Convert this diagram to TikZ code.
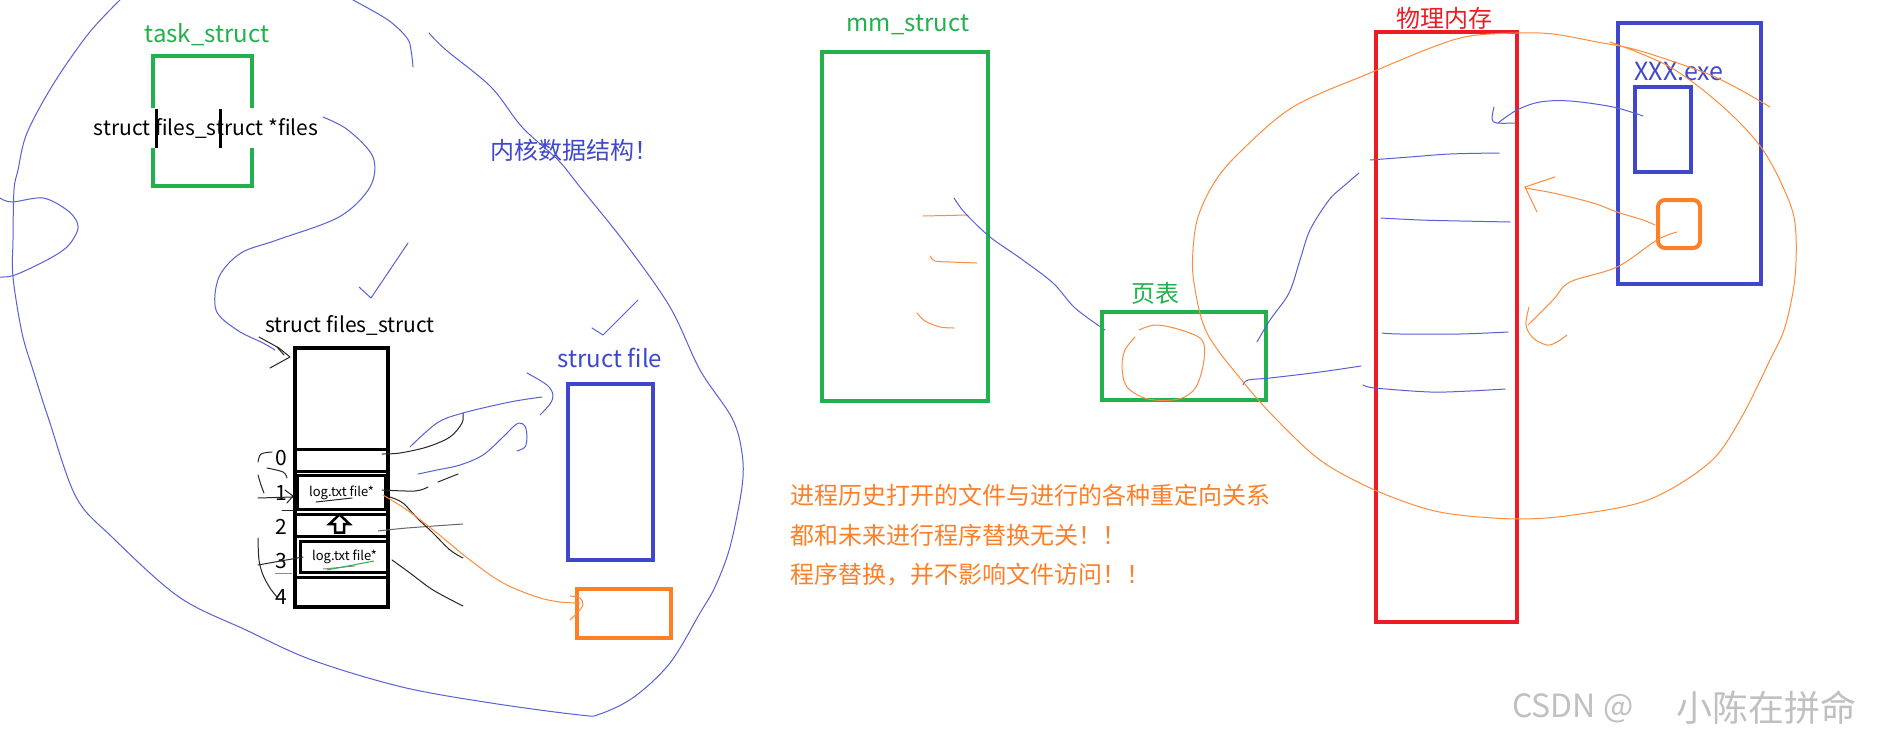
\documentclass[tikz,border=0pt]{standalone}
\usepackage{fontspec}
\setmainfont{Noto Sans CJK SC}
\definecolor{pgreen}{RGB}{34,177,76}
\definecolor{pblue}{RGB}{63,72,204}
\definecolor{pred}{RGB}{237,28,36}
\definecolor{porange}{RGB}{255,127,39}
\definecolor{hblue}{RGB}{88,96,214}
\definecolor{horange}{RGB}{255,140,60}
\definecolor{wmgray}{RGB}{192,192,192}
\newcommand{\myfs}[1]{\fontsize{#1}{#1}\selectfont}
\begin{document}
\begin{tikzpicture}[x=1pt,y=-1pt,
  boxst/.style={draw, line width=4pt, inner sep=0pt, anchor=center},
  rowst/.style={draw, line width=3pt, inner sep=0pt, anchor=center},
  lbl/.style={inner sep=0pt, anchor=center},
  hb/.style={draw=hblue, line width=1pt, line cap=round, line join=round},
  ho/.style={draw=horange, line width=1pt, line cap=round, line join=round},
  hk/.style={draw=black!85, line width=1pt, line cap=round, line join=round},
  sm/.style={smooth, tension=0.55}]
\useasboundingbox (0,0) rectangle (1890,741);
\fill[white] (0,0) rectangle (1890,741);

% ---------- task_struct ----------
\node[boxst, draw=pgreen, minimum width=99, minimum height=130] (task) at (202.5,121) {};
\node[lbl, text=pgreen] (tasklbl) at (207,35) {\myfs{24}task\_struct};
\node[lbl, fill=white, minimum height=40, inner xsep=0pt] (files) at (206,128) {\myfs{21}struct files\_struct *files};
\fill[black] (154.5,109) rectangle (158,148);
\fill[black] (218.5,109) rectangle (222,148);

% ---------- big blue kernel loop ----------
\draw[hb] plot[sm] coordinates {(120,0) (89,33) (54,83) (27,133) (18,170) (14,190) (13,240) (13,277) (22,333) (33,370) (49,420) (76,497) (112,537) (179,597) (246,630) (312,660) (402,687) (491,703) (580,715) (600,714) (634,697) (670,663) (700,613) (715,587) (730,547) (742,487) (742,453) (732,418) (700,370) (670,307) (625,243) (580,187) (558,160) (522,127) (491,87) (446,50) (429,33)};
\draw[hb] plot[sm] coordinates {(353,0) (388,20) (407,38) (411,50) (413,67)};
\draw[hb] plot[sm] coordinates {(0,198) (12,202) (43,198) (67,210) (77,222) (77,232) (67,247) (47,260) (15,275) (0,277)};

% kernel label and checks
\node[lbl, anchor=west, text=pblue] (kern) at (490,150) {\myfs{24}内核数据结构！};
\draw[hb] (408,243) -- (371,298) -- (359,287);
\draw[hb] (638,300) -- (603,335) -- (592,328);

% ---------- files_struct ----------
\node[lbl, text=black] (fslbl) at (350,325) {\myfs{21}struct files\_struct};
\node[boxst, draw=black, minimum width=93, minimum height=259] (fs) at (341.5,477.5) {};
\node[rowst, minimum width=93, minimum height=22] (r0) at (342,460.5) {};
\node[rowst, minimum width=88, minimum height=34] (r1) at (341.5,492.5) {\myfs{13}log.txt file*};
\node[rowst, minimum width=93, minimum height=22] (r2) at (342,525.5) {};
\node[rowst, minimum width=88, minimum height=31] (r3) at (344.5,557) {\myfs{13}log.txt file*};
\node[rowst, minimum width=93, minimum height=29] (r4) at (342,592) {};
\node[lbl] (n0) at (281,458) {\myfs{21}0};
\node[lbl] (n1) at (281,493) {\myfs{21}1};
\node[lbl] (n2) at (281,527) {\myfs{21}2};
\node[lbl] (n3) at (281,561) {\myfs{21}3};
\node[lbl] (n4) at (281,597) {\myfs{21}4};
\draw[line width=2.5pt, fill=white, line join=miter] (339.5,514.5) -- (349.5,524) -- (344,524) -- (344,532.5) -- (335,532.5) -- (335,524) -- (329.5,524) -- cycle;
% underline scribbles
\draw[hk] (316,502) -- (352,498);
\draw[draw=black!45, line width=1pt] (323,569) -- (355,566);
\draw[draw=pgreen, line width=1pt] (327,570) -- (374,561);

% connector files -> files_struct
\draw[hb] plot[sm] coordinates {(323,117) (348,130) (373,157) (370,187) (339,217) (277,240) (241,253) (219,277) (216,310) (237,330) (263,343) (275,350)};
\draw[hk] (259,337) -- (279,348) -- (290,357) -- (270,368);
\draw[hk] (277,347) -- (284,355);

% left hand strokes
\draw[hk] plot[sm] coordinates {(272,452) (261,454) (258,462)};
\draw[hk] plot[sm] coordinates {(267,468) (283,472) (287,478)};
\draw[hk] plot[sm] coordinates {(258,475) (261,485) (264,493)};
\draw[hk] (258,498) -- (293,497);
\draw[hk] (285,490) -- (293,496) -- (287,503);
\draw[hk] (282,510) -- (293,510);
\draw[hk] (258,565) -- (303,557);
\draw[draw=black!45, line width=1pt] (275,573) -- (292,573);
\draw[hk] plot[sm] coordinates {(258,538) (259,560) (263,575) (270,588) (277,597)};

% right hand strokes
\draw[hk] plot[sm] coordinates {(382,454) (400,453) (427,447) (450,437) (462,423) (463,413)};
\draw[hk] plot[sm] coordinates {(382,490) (415,491) (428,487)};
\draw[hk] (438,482) -- (458,474);
\draw[draw=black!60, line width=1pt] plot[sm] coordinates {(378,531) (407,528) (463,524)};
\draw[hk] plot[sm] coordinates {(390,497) (403,503) (417,518) (432,532) (450,550) (463,558)};
\draw[hk] plot[sm] coordinates {(392,560) (410,573) (433,590) (463,606)};

% ---------- struct file ----------
\node[lbl, text=pblue] (sflbl) at (610,358) {\myfs{24}struct file};
\node[boxst, draw=pblue, minimum width=85, minimum height=176] (sf) at (610.5,472) {};
\node[boxst, draw=porange, minimum width=94, minimum height=49] (ob) at (624,613.5) {};
\draw[hb] plot[sm] coordinates {(410,447) (437,423) (463,413) (510,402) (542,397)};
\draw[hb] plot[sm] coordinates {(527,373) (547,385) (553,395) (550,404) (540,415)};
\draw[hb] plot[sm] coordinates {(418,474) (437,470) (460,465) (483,455) (503,437) (513,427) (519,423) (525,426) (527,437) (525,447) (517,451)};
\draw[ho] plot[sm] coordinates {(383,495) (407,510) (437,533) (470,560) (503,583) (537,597) (560,602) (580,603)};
\draw[ho] plot[sm] coordinates {(570,596) (580,598) (583,605) (577,613) (570,620)};

% ---------- mm_struct ----------
\node[lbl, text=pgreen] (mmlbl) at (908,25) {\myfs{24}mm\_struct};
\node[boxst, draw=pgreen, minimum width=166, minimum height=349] (mm) at (905,226.5) {};
\draw[ho] (923,216) -- (968,215);
\draw[ho] plot[sm] coordinates {(930,256) (935,261) (950,262) (977,263)};
\draw[ho] plot[sm] coordinates {(917,313) (925,321) (940,327) (954,328)};
\draw[hb] plot[sm] coordinates {(954,198) (965,213) (990,237) (1020,258) (1053,283) (1075,308) (1105,330)};

% ---------- page table ----------
\node[lbl, text=pgreen] (ptlbl) at (1155,293) {\myfs{24}页表};
\node[boxst, draw=pgreen, minimum width=164, minimum height=88] (pt) at (1184,356) {};
\draw[ho] plot[sm] coordinates {(1139,330) (1156,325) (1181,330) (1202,340) (1204,360) (1196,387) (1179,399) (1148,399) (1127,387) (1122,367) (1125,350) (1135,337)};
\draw[hb] plot[sm] coordinates {(1257,342) (1270,320) (1289,293) (1300,260) (1310,230) (1329,200) (1345,185) (1359,173)};
\draw[hb] plot[sm] coordinates {(1243,385) (1248,380) (1270,378) (1320,372) (1361,366)};

% ---------- physical memory ----------
\node[boxst, draw=pred, minimum width=141, minimum height=590] (mem) at (1446.5,327) {};
\node[lbl, text=pred] (memlbl) at (1444,18) {\myfs{24}物理内存};
\draw[hb] plot[sm] coordinates {(1370,160) (1410,157) (1450,154) (1499,153)};
\draw[hb] plot[sm] coordinates {(1381,218) (1420,220) (1460,221) (1510,222)};
\draw[hb] plot[sm] coordinates {(1382,333) (1400,334) (1460,334) (1508,332)};
\draw[hb] plot[sm] coordinates {(1363,385) (1375,388) (1430,392) (1470,391) (1505,389)};

% ---------- XXX.exe ----------
\node[boxst, draw=pblue, minimum width=143, minimum height=261] (exe) at (1689.5,153.5) {};
\node[lbl, text=pblue] (exelbl) at (1679,72) {\myfs{25}XXX.exe};
\node[boxst, draw=pblue, minimum width=56, minimum height=85] (code) at (1663,129.5) {};
\node[boxst, draw=porange, rounded corners=7pt, minimum width=42, minimum height=48] (dat) at (1679,224) {};
\draw[hb] plot[sm] coordinates {(1643,116) (1613,107) (1570,101) (1540,102) (1517,110) (1498,123)};
\draw[hb] plot[sm] coordinates {(1494,107) (1492,119) (1497,123) (1515,123)};
\draw[ho] plot[sm] coordinates {(1655,225) (1643,220) (1617,212) (1593,203) (1553,193) (1525,188)};
\draw[ho] (1555,177) -- (1525,187) -- (1537,212);
\draw[ho] plot[sm] coordinates {(1677,232) (1657,240) (1617,267) (1570,282) (1553,300) (1528,325)};
\draw[ho] plot[sm] coordinates {(1529,307) (1526,325) (1533,338) (1547,345) (1557,342) (1567,335)};

% big orange loop
\draw[ho] plot[sm] coordinates {(1770,107) (1737,88) (1703,72) (1637,50) (1597,42) (1553,34) (1517,33) (1470,36) (1433,47) (1370,73) (1293,107) (1239,153) (1214,183) (1198,217) (1193,250) (1194,283) (1207,333) (1244,383) (1277,420) (1320,460) (1368,487) (1420,507) (1459,515) (1519,519) (1573,515) (1648,500) (1709,463) (1740,420) (1770,360) (1785,327) (1795,277) (1795,223) (1783,187) (1763,150) (1737,120) (1703,90) (1670,67) (1637,52) (1610,42)};

% ---------- notes ----------
\node[lbl, anchor=west, text=porange] (t1) at (790,495) {\myfs{24}进程历史打开的文件与进行的各种重定向关系};
\node[lbl, anchor=west, text=porange] (t2) at (790,535) {\myfs{24}都和未来进行程序替换无关！！};
\node[lbl, anchor=west, text=porange] (t3) at (790,575) {\myfs{24}程序替换，并不影响文件访问！！};

\node[lbl, anchor=west, text=wmgray] (wm1) at (1512,708) {\myfs{32}CSDN @};
\node[lbl, anchor=west, text=wmgray] (wm2) at (1676,708) {\myfs{36}小陈在拼命};
\end{tikzpicture}
\end{document}
